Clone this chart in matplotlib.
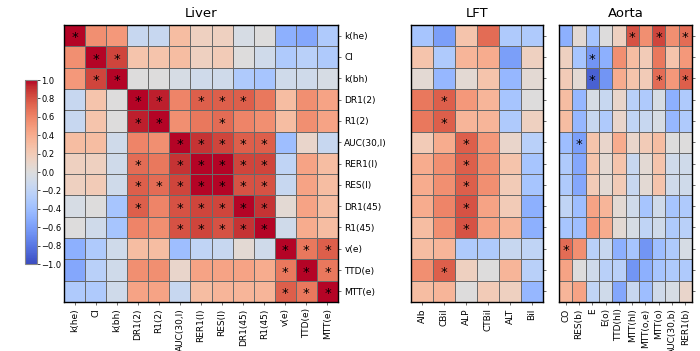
import numpy as np
import matplotlib
matplotlib.use("Agg")
import matplotlib.pyplot as plt

rows = ["k(he)", "Cl", "k(bh)", "DR1(2)", "R1(2)", "AUC(30,l)", "RER1(l)", "RES(l)",
        "DR1(45)", "R1(45)", "v(e)", "TTD(e)", "MTT(e)"]
lft_cols = ["Alb", "CBil", "ALP", "CTBil", "ALT", "Bil"]
aorta_cols = ["CO", "RES(b)", "E", "E(o)", "TTD(hl)", "MTT(hl)", "MTT(o,e)", "MTT(o)",
              "AUC(30,b)", "RER1(b)"]

liver_vals = [
    [1.00, 0.55, 0.50, -0.15, -0.15, 0.30, 0.15, 0.15, -0.05, 0.00, -0.50, -0.55, -0.30],
    [0.55, 1.00, 0.85, 0.25, 0.25, 0.30, 0.15, 0.20, 0.00, -0.10, -0.30, -0.25, -0.30],
    [0.50, 0.85, 1.00, 0.00, 0.00, -0.05, -0.10, -0.10, -0.30, -0.35, -0.10, -0.10, -0.05],
    [-0.15, 0.25, 0.00, 1.00, 0.95, 0.60, 0.75, 0.75, 0.75, 0.65, 0.30, 0.55, 0.45],
    [-0.15, 0.25, 0.00, 0.95, 1.00, 0.55, 0.65, 0.70, 0.60, 0.55, 0.30, 0.55, 0.45],
    [0.30, 0.30, -0.10, 0.60, 0.55, 1.00, 0.90, 0.85, 0.75, 0.75, -0.40, 0.10, -0.15],
    [0.15, 0.15, -0.10, 0.70, 0.65, 0.90, 1.00, 1.00, 0.85, 0.85, -0.20, 0.45, 0.30],
    [0.15, 0.20, -0.10, 0.75, 0.70, 0.85, 1.00, 1.00, 0.80, 0.80, -0.15, 0.45, 0.30],
    [-0.05, 0.00, -0.35, 0.75, 0.60, 0.80, 0.85, 0.85, 1.00, 0.90, 0.05, 0.45, 0.30],
    [0.00, -0.10, -0.35, 0.60, 0.55, 0.80, 0.85, 0.80, 0.90, 1.00, -0.10, 0.40, 0.30],
    [-0.50, -0.30, -0.10, 0.30, 0.30, -0.40, -0.20, -0.15, 0.05, -0.10, 1.00, 0.65, 0.75],
    [-0.55, -0.25, -0.10, 0.55, 0.55, 0.10, 0.45, 0.45, 0.45, 0.40, 0.65, 1.00, 0.65],
    [-0.30, -0.30, -0.10, 0.45, 0.45, -0.15, 0.30, 0.35, 0.35, 0.35, 0.75, 0.65, 1.00],
]
liver_sig = [
    [0], [1, 2], [1, 2], [3, 4, 6, 7, 8], [3, 4, 7], [5, 6, 7, 8, 9], [3, 5, 6, 7, 8, 9],
    [3, 4, 5, 6, 7, 8, 9], [3, 5, 6, 7, 8, 9], [5, 6, 7, 8, 9], [10, 11, 12], [10, 11, 12],
    [10, 11, 12],
]

lft_vals = [
    [-0.35, -0.60, 0.25, 0.70, -0.30, -0.30],
    [0.25, -0.30, 0.35, 0.40, -0.60, 0.15],
    [0.05, -0.45, 0.05, 0.25, -0.45, 0.05],
    [0.65, 0.75, 0.50, 0.35, -0.35, 0.00],
    [0.65, 0.75, 0.35, 0.35, -0.30, 0.15],
    [0.20, 0.40, 0.75, 0.50, 0.10, -0.25],
    [0.40, 0.55, 0.75, 0.55, 0.25, -0.35],
    [0.40, 0.55, 0.75, 0.55, 0.20, -0.35],
    [0.40, 0.60, 0.80, 0.45, 0.20, -0.50],
    [0.30, 0.55, 0.80, 0.45, 0.35, -0.50],
    [0.30, 0.35, -0.30, -0.30, -0.15, -0.20],
    [0.55, 0.75, 0.15, 0.00, 0.35, -0.25],
    [0.30, 0.35, 0.00, 0.20, 0.15, -0.45],
]
lft_sig = [[], [], [], [1], [1], [2], [2], [2], [2], [2], [], [1], []]

aorta_vals = [
    [-0.50, 0.05, -0.35, 0.00, 0.15, 0.80, 0.55, 0.85, 0.55, 0.70],
    [0.15, -0.35, -0.65, -0.50, 0.55, 0.30, 0.20, 0.65, 0.25, 0.50],
    [0.20, 0.05, -0.90, -0.65, 0.40, 0.25, 0.20, 0.70, 0.50, 0.75],
    [0.30, -0.45, -0.05, -0.15, 0.10, -0.25, -0.30, -0.05, -0.50, -0.30],
    [0.30, -0.45, -0.15, -0.30, 0.10, -0.20, -0.15, -0.05, -0.45, -0.30],
    [-0.40, -0.60, 0.25, 0.10, 0.40, 0.10, 0.20, 0.30, 0.00, 0.00],
    [-0.30, -0.55, 0.25, 0.05, 0.25, -0.15, 0.05, 0.25, -0.10, -0.10],
    [-0.30, -0.55, 0.20, 0.05, 0.20, -0.15, 0.05, 0.25, -0.10, -0.10],
    [-0.20, -0.40, 0.45, 0.35, 0.05, -0.10, -0.35, -0.10, -0.35, -0.30],
    [-0.35, -0.40, 0.50, 0.40, 0.05, -0.05, -0.20, -0.10, -0.30, -0.25],
    [0.70, 0.55, -0.25, -0.15, -0.50, -0.35, -0.65, -0.40, -0.30, -0.05],
    [0.45, 0.00, -0.10, -0.25, -0.25, -0.65, -0.50, -0.35, -0.30, -0.30],
    [0.35, 0.45, -0.20, -0.10, -0.55, -0.15, -0.40, -0.10, -0.05, 0.10],
]
aorta_sig = [[5, 7, 9], [2], [2, 7, 9], [], [], [1], [], [], [], [], [0], [], []]

cbar_ticks = [-1.0, -0.8, -0.6, -0.4, -0.2, 0.0, 0.2, 0.4, 0.6, 0.8, 1.0]

W, H = 700, 351
fig = plt.figure(figsize=(7.0, 3.51), dpi=100)

def box(x0, y0, x1, y1):
    return [x0 / W, 1 - y1 / H, (x1 - x0) / W, (y1 - y0) / H]

cmap = plt.get_cmap("coolwarm")

def draw(ax, vals, sig, xlabels, title, show_ylabels):
    data = np.array(vals)
    nr, nc = data.shape
    mesh = ax.pcolormesh(np.arange(nc + 1), np.arange(nr + 1), data, cmap=cmap,
                         vmin=-1, vmax=1, edgecolors="#6a6a6a", linewidth=0.5)
    ax.set_xlim(0, nc)
    ax.set_ylim(nr, 0)
    for r, cols in enumerate(sig):
        for c in cols:
            ax.text(c + 0.5, r + 0.6, "*", ha="center", va="center", fontsize=9.5,
                    color="black")
    ax.set_xticks(np.arange(nc) + 0.5)
    ax.set_xticklabels(xlabels, rotation=90, fontsize=6.5)
    ax.yaxis.tick_right()
    ax.set_yticks(np.arange(nr) + 0.5)
    if show_ylabels:
        ax.set_yticklabels(rows, fontsize=6.5)
    else:
        ax.set_yticklabels([])
    ax.tick_params(axis="both", length=2.5, width=0.6, pad=2, color="#555555")
    ax.set_title(title, fontsize=9.5, pad=6)
    for s in ax.spines.values():
        s.set_linewidth(1.0)
    return mesh

ax1 = fig.add_axes(box(64, 25, 338, 302))
m = draw(ax1, liver_vals, liver_sig, rows, "Liver", True)
ax2 = fig.add_axes(box(411, 25, 543, 302))
draw(ax2, lft_vals, lft_sig, lft_cols, "LFT", False)
ax3 = fig.add_axes(box(559, 25, 692, 302))
draw(ax3, aorta_vals, aorta_sig, aorta_cols, "Aorta", False)

cax = fig.add_axes(box(25, 80, 37, 264))
cb = fig.colorbar(m, cax=cax, ticks=cbar_ticks)
cb.ax.tick_params(labelsize=6, length=2, width=0.5, pad=1)
cb.outline.set_edgecolor("#888888")
cb.outline.set_linewidth(0.8)

fig.savefig("out.png", dpi=100)
